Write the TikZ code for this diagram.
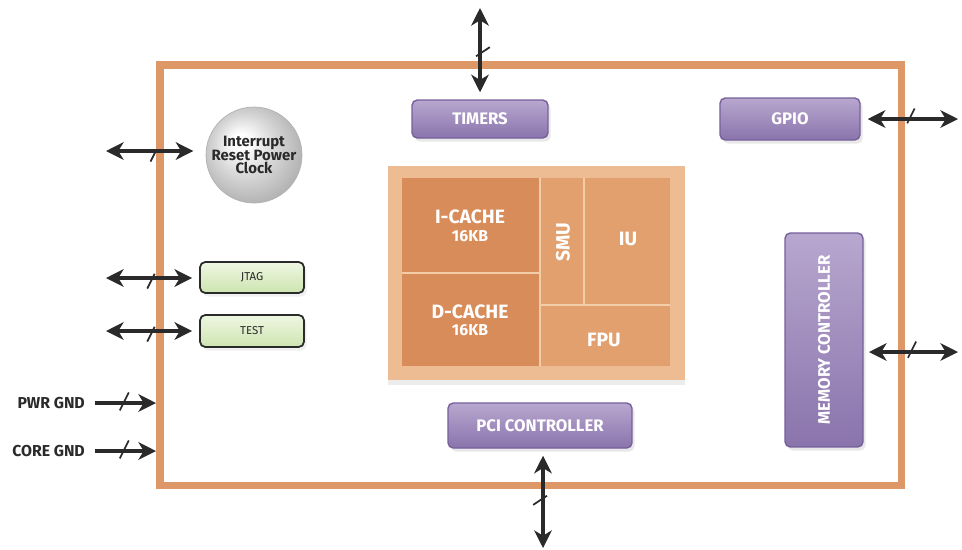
\documentclass[tikz,border=0pt]{standalone}
\usepackage{fontspec}
\setmainfont{Fira Sans}
\usetikzlibrary{arrows.meta, decorations.markings, shadows}

\definecolor{frameorange}{HTML}{DE9868}
\definecolor{corelight}{HTML}{EEBC92}
\definecolor{cachedark}{HTML}{D88C5A}
\definecolor{unitmid}{HTML}{E2A06E}
\definecolor{celline}{HTML}{F3CCA8}
\definecolor{lavtop}{HTML}{B8A7CF}
\definecolor{lavbot}{HTML}{8A74AC}
\definecolor{lavedge}{HTML}{75609A}
\definecolor{minttop}{HTML}{EEF7E2}
\definecolor{mintbot}{HTML}{CDE4B0}
\definecolor{inkgray}{HTML}{2A2A2A}

\pgfdeclareradialshading{chipball}{\pgfpoint{-8bp}{8bp}}{%
  color(0bp)=(white); color(4bp)=(white); color(16bp)=(gray!32);
  color(28bp)=(gray!60); color(40bp)=(gray!75)}

\tikzset{
  purplebox/.style={rectangle, rounded corners=3pt, draw=lavedge, line width=0.8pt,
    top color=lavtop, bottom color=lavbot, text=white,
    font=\bfseries\fontsize{9.5}{10}\selectfont,
    drop shadow={shadow xshift=1.5pt, shadow yshift=-2pt, opacity=0.18}},
  greenbox/.style={rectangle, rounded corners=3pt, draw=inkgray, line width=1pt,
    top color=minttop, bottom color=mintbot, text=inkgray,
    font=\fontsize{6.5}{7}\selectfont,
    drop shadow={shadow xshift=1.5pt, shadow yshift=-2pt, opacity=0.12}},
  celltext/.style={text=white, font=\bfseries\fontsize{11}{12}\selectfont},
  cellsize/.style={text=white, font=\bfseries\fontsize{9}{10}\selectfont},
  gndlabel/.style={anchor=east, text=inkgray, font=\bfseries\fontsize{9}{10}\selectfont},
  bus/.style={line width=2pt, draw=inkgray,
    {Stealth[length=10pt,width=10pt,inset=3pt]}-{Stealth[length=10pt,width=10pt,inset=3pt]}},
  gndbus/.style={line width=2pt, draw=inkgray, -{Stealth[length=10pt,width=10pt,inset=3pt]}},
  hslash/.style={postaction={decorate}, decoration={markings,
    mark=at position 0.5 with {\draw[-, line width=1pt, inkgray] (-3pt,-6pt) -- (3pt,6pt);}}},
  vslash/.style={postaction={decorate}, decoration={markings,
    mark=at position 0.5 with {\draw[-, line width=1pt, inkgray] (-3.7pt,5.6pt) -- (3.7pt,-5.6pt);}}}
}

\begin{document}
\begin{tikzpicture}[x=0.02cm, y=-0.02cm]
  \useasboundingbox (0,0) rectangle (962,549);

  % chip outline
  \draw[line width=4pt, frameorange] (160,65) rectangle (901,485);

  % processor core
  \node[fill=corelight, minimum width=5.94cm, minimum height=4.28cm, inner sep=0pt,
    drop shadow={shadow xshift=0pt, shadow yshift=-3pt, opacity=0.15}] (core) at (536.5,273) {};
  \fill[cachedark] (402,178) rectangle (540,366);
  \fill[unitmid] (540,178) rectangle (670,366);
  \draw[celline, line width=0.6pt] (402,273) -- (540,273) (540,178) -- (540,366)
    (584,178) -- (584,305) (540,305) -- (670,305);
  \node[celltext] (icache) at (470,217) {I-CACHE};
  \node[cellsize] (icachesz) at (470,236) {16KB};
  \node[celltext] (dcache) at (470,312) {D-CACHE};
  \node[cellsize] (dcachesz) at (470,330) {16KB};
  \node[celltext, rotate=90] (smu) at (563,242) {SMU};
  \node[celltext] (iu) at (628,239) {IU};
  \node[celltext] (fpu) at (604,340) {FPU};

  % peripherals
  \node[purplebox, minimum width=2.72cm, minimum height=0.76cm] (timers) at (480,119) {TIMERS};
  \node[purplebox, minimum width=2.8cm, minimum height=0.84cm] (gpio) at (790,119) {GPIO};
  \node[purplebox, minimum width=3.68cm, minimum height=0.9cm] (pci) at (540,425.5) {PCI CONTROLLER};
  \node[purplebox, minimum width=1.56cm, minimum height=4.28cm] (mem) at (824,340) {};
  \node[text=white, font=\bfseries\fontsize{9.5}{10}\selectfont, rotate=90] (memtxt) at (mem) {MEMORY CONTROLLER};
  \node[greenbox, minimum width=2.08cm, minimum height=0.62cm] (jtag) at (252,277.5) {JTAG};
  \node[greenbox, minimum width=2.08cm, minimum height=0.64cm] (test) at (252,331) {TEST};
  \node[circle, minimum size=1.92cm, shading=chipball, draw=gray!60, line width=0.4pt,
    text=inkgray, align=center, inner sep=0pt,
    font=\bfseries\fontsize{8.5}{7.8}\selectfont] (sphere) at (254,155)
    {Interrupt\\Reset Power\\Clock};

  % ground pins
  \node[gndlabel] (pwr) at (91,403) {PWR GND};
  \node[gndlabel] (coregnd) at (91,451) {CORE GND};

  % free ends of the buses
  \coordinate (timers-out) at (480,8);
  \coordinate (gpio-out) at (958,119);
  \coordinate (mem-out) at (958,352);
  \coordinate (pci-out) at (543,548);
  \coordinate (irq-out) at (106,151);
  \coordinate (jtag-out) at (106,278);
  \coordinate (test-out) at (106,331);
  \coordinate (pwr-in) at (156,403);
  \coordinate (coregnd-in) at (156,451);

  % buses
  \draw[bus, vslash, shorten <=4pt] (timers.north) -- (timers-out);
  \draw[bus, vslash, shorten >=4pt] (pci-out) -- (pci-out |- pci.south);
  \draw[bus, hslash, shorten <=4pt] (gpio.east) -- (gpio-out);
  \draw[bus, hslash, shorten <=3pt] (mem-out -| mem.east) -- (mem-out);
  \draw[bus, hslash, shorten >=7pt] (irq-out) -- (irq-out -| sphere.west);
  \draw[bus, hslash, shorten >=4pt] (jtag-out) -- (jtag-out -| jtag.west);
  \draw[bus, hslash, shorten >=4pt] (test-out) -- (test-out -| test.west);
  \draw[gndbus, hslash, shorten <=2pt] (pwr.east) -- (pwr-in);
  \draw[gndbus, hslash, shorten <=2pt] (coregnd.east) -- (coregnd-in);
\end{tikzpicture}
\end{document}
